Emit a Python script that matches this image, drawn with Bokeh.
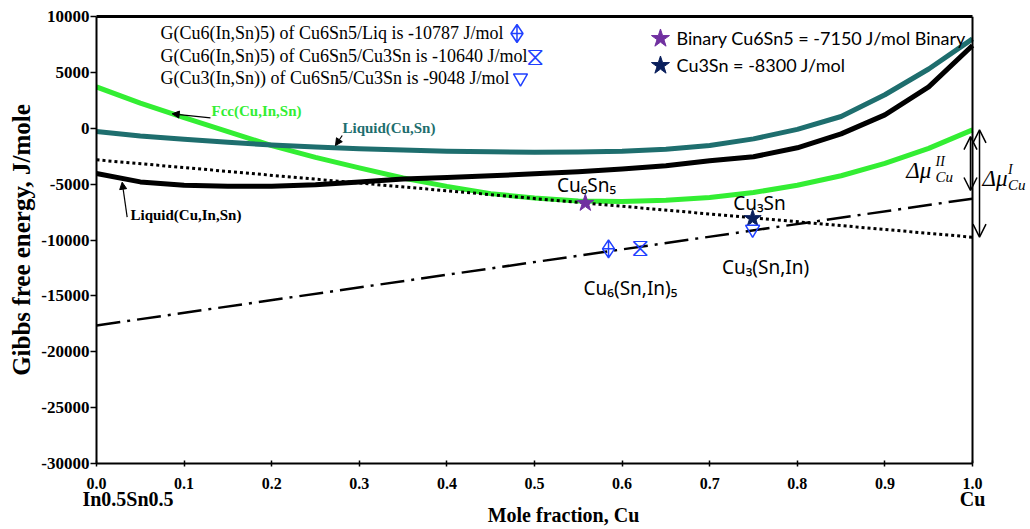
import math
from bokeh.plotting import figure
from bokeh.models import (Label, Arrow, OpenHead, NormalHead, FixedTicker, NumeralTickFormatter,
                          Range1d, LinearAxis, Span, CustomJSTickFormatter)
from bokeh.core.properties import value
from bokeh.embed import file_html
from bokeh.resources import INLINE

# ---------------- data ----------------
x_cu = [0.00, 0.05, 0.10, 0.15, 0.20, 0.25, 0.30, 0.35, 0.40, 0.45, 0.50,
        0.55, 0.60, 0.65, 0.70, 0.75, 0.80, 0.85, 0.90, 0.95, 1.00]
g_fcc = [3700, 2250, 950, -300, -1550, -2600, -3550, -4450, -5200, -5850, -6250,
         -6500, -6550, -6450, -6200, -5750, -5100, -4250, -3150, -1800, -150]
g_liq_cusn = [-300, -700, -980, -1250, -1500, -1680, -1830, -1950, -2050, -2110, -2140,
              -2120, -2050, -1880, -1550, -950, -100, 1050, 3000, 5300, 8000]
g_liq_cuinsn = [-4050, -4800, -5100, -5200, -5200, -5050, -4800, -4550, -4400, -4250, -4080,
                -3900, -3650, -3350, -2900, -2550, -1750, -500, 1200, 3700, 7400]

tangent_x = [0.0, 1.0]
tangent_binary = [-2826, -9750]     # dotted common tangent
tangent_ternary = [-17650, -6300]   # dash-dot common tangent

binary_x = [0.558, 0.749]
binary_g = [-6700, -8070]
binary_names = ["Cu\u2086Sn\u2085", "Cu\u2083Sn"]
ternary_names = ["Cu\u2086(Sn,In)\u2085", "Cu\u2083(Sn,In)"]

ternary_x = [0.5845, 0.620, 0.749]
ternary_g = [-10787, -10640, -9048]

legend_left = [
    "G(Cu6(In,Sn)5) of Cu6Sn5/Liq is -10787 J/mol",
    "G(Cu6(In,Sn)5) of Cu6Sn5/Cu3Sn is -10640 J/mol",
    "G(Cu3(In,Sn)) of Cu6Sn5/Cu3Sn is -9048 J/mol",
]
legend_right = ["Binary Cu6Sn5 = -7150 J/mol Binary", "Cu3Sn = -8300 J/mol"]

x_ticks = [0.0, 0.1, 0.2, 0.3, 0.4, 0.5, 0.6, 0.7, 0.8, 0.9, 1.0]
y_ticks = [-30000, -25000, -20000, -15000, -10000, -5000, 0, 5000, 10000]
end_ticks = [0.036, 1.0]
end_labels = ["In0.5Sn0.5", "Cu"]

GREEN = "#33EE33"
TEAL = "#1E6E6E"
BLUE = "#2040FF"
PURPLE = "#7030A0"
NAVY = "#0A1F5C"
SERIF = "Liberation Serif"

p = figure(width=1030, height=529, output_backend="svg", toolbar_location=None,
           x_range=Range1d(0, 1.0662), y_range=Range1d(-30000, 10000),
           min_border_left=96, min_border_right=0, min_border_top=16, min_border_bottom=66)
p.grid.visible = False
p.outline_line_color = None
p.background_fill_color = "white"
p.border_fill_color = "white"

xax = p.below[0]
yax = p.left[0]
xax.ticker = FixedTicker(ticks=x_ticks)
xax.formatter = NumeralTickFormatter(format="0.0")
xax.bounds = (0, 1)
yax.ticker = FixedTicker(ticks=y_ticks)
yax.formatter = NumeralTickFormatter(format="0")
for ax in (xax, yax):
    ax.axis_line_width = 2
    ax.axis_line_color = "black"
    ax.major_tick_line_color = "black"
    ax.major_tick_line_width = 1.5
    ax.minor_tick_line_color = None
    ax.major_label_text_font = SERIF
    ax.major_label_text_font_style = "bold"
    ax.major_label_text_color = "black"
xax.major_label_text_font_size = "16px"
yax.major_label_text_font_size = "17px"
xax.major_tick_in = 3
xax.major_tick_out = 3
xax.major_label_standoff = 11
yax.major_tick_in = 0
yax.major_tick_out = 6
yax.major_label_standoff = 1
yax.axis_label = "Gibbs free energy, J/mole"
yax.axis_label_text_font = SERIF
yax.axis_label_text_font_style = "bold"
yax.axis_label_text_font_size = "25px"
yax.axis_label_text_color = "black"
yax.axis_label_standoff = 3

# second row under the x axis: end-member names and the axis title
ax2 = LinearAxis(ticker=FixedTicker(ticks=end_ticks),
                 formatter=CustomJSTickFormatter(args=dict(labels=end_labels),
                                                 code="return tick < 0.5 ? labels[0] : labels[1];"),
                 axis_line_color=None, major_tick_line_color=None, minor_tick_line_color=None,
                 major_tick_in=0, major_tick_out=0, major_label_standoff=-4,
                 major_label_text_font=SERIF, major_label_text_font_style="bold",
                 major_label_text_font_size="20px", major_label_text_color="black",
                 axis_label="Mole fraction, Cu", axis_label_standoff=-9,
                 axis_label_text_font=SERIF, axis_label_text_font_style="bold",
                 axis_label_text_font_size="20px", axis_label_text_color="black")
p.add_layout(ax2, "below")

# top border (line only)
top = LinearAxis(bounds=(0, 1), axis_line_width=3, axis_line_color="black",
                 major_tick_line_color=None, minor_tick_line_color=None,
                 major_tick_in=0, major_tick_out=0, major_label_standoff=0,
                 major_label_text_font_size="0px", ticker=FixedTicker(ticks=[]))
p.add_layout(top, "above")
# right border at x = 1
p.add_layout(Span(location=1.0, dimension="height", line_color="black", line_width=2))

# curves
p.line(x_cu, g_fcc, line_color=GREEN, line_width=5, line_join="round")
p.line(x_cu, g_liq_cusn, line_color=TEAL, line_width=5, line_join="round")
p.line(x_cu, g_liq_cuinsn, line_color="black", line_width=5, line_join="round")
p.line(tangent_x, tangent_binary, line_color="black", line_width=3, line_dash="3 3")
p.line(tangent_x, tangent_ternary, line_color="black", line_width=2.5, line_dash="24 7 3 7")

# compound points
p.scatter([binary_x[0]], [binary_g[0]], marker="star", size=18, color=PURPLE)
p.scatter([binary_x[1]], [binary_g[1]], marker="star", size=18, color=NAVY)
p.scatter([ternary_x[0]], [ternary_g[0]], marker="diamond_cross", size=18,
          line_color=BLUE, fill_color=None, line_width=1.5)
p.text([ternary_x[1]], [ternary_g[1]], text=["\u29d6"], text_color=BLUE,
       text_font=value("DejaVu Sans"), text_font_size="26px",
       text_align="center", text_baseline="middle")
p.scatter([ternary_x[2]], [ternary_g[2]], marker="inverted_triangle", size=14,
          line_color=BLUE, fill_color=None, line_width=1.5)

# legend (top-left), drawn as text with symbols on the right
leg_y = [8479, 6466, 4497]
for t, yy in zip(legend_left, leg_y):
    p.add_layout(Label(x=0.0731, y=yy, text=t, text_font=SERIF, text_font_size="18px",
                       text_color="black", text_baseline="middle"))
p.scatter([0.480], [leg_y[0]], marker="diamond_cross", size=18, line_color=BLUE,
          fill_color=None, line_width=1.5)
p.text([0.500], [leg_y[1]], text=["\u29d6"], text_color=BLUE, text_font=value("DejaVu Sans"),
       text_font_size="26px", text_align="center", text_baseline="middle")
p.scatter([0.484], [leg_y[2]], marker="inverted_triangle", size=14, line_color=BLUE,
          fill_color=None, line_width=1.5)

# legend (top-right)
p.scatter([0.6438], [8032], marker="star", size=19, color=PURPLE)
p.scatter([0.6438], [5616], marker="star", size=19, color=NAVY)
for t, yy in zip(legend_right, [8032, 5616]):
    p.add_layout(Label(x=0.6621, y=yy, text=t, text_font="Lato", text_font_size="18px",
                       text_color="black", text_baseline="middle"))

# compound labels
for t, xx, yy in [(binary_names[0], 0.5594, -5123), (binary_names[1], 0.7568, -6645),
                  (ternary_names[0], 0.6096, -14251), (ternary_names[1], 0.7637, -12372)]:
    p.add_layout(Label(x=xx, y=yy, text=t, text_font="Noto Sans", text_font_size="19px",
                       text_color="black", text_align="center", text_baseline="middle"))

# curve labels + pointer arrows
p.add_layout(Label(x=0.1313, y=1499, text="Fcc(Cu,In,Sn)", text_font=SERIF, text_font_style="bold",
                   text_font_size="15px", text_color=GREEN, text_baseline="middle"))
p.add_layout(Label(x=0.2808, y=-22, text="Liquid(Cu,Sn)", text_font=SERIF, text_font_style="bold",
                   text_font_size="15px", text_color=TEAL, text_baseline="middle"))
p.add_layout(Label(x=0.0388, y=-7807, text="Liquid(Cu,In,Sn)", text_font=SERIF, text_font_style="bold",
                   text_font_size="15px", text_color="black", text_baseline="middle"))
for (xs, ys, xe, ye) in [(0.1301, 935, 0.0864, 1293), (0.2805, -649, 0.2728, -1544),
                         (0.035, -7960, 0.0293, -4828)]:
    p.add_layout(Arrow(x_start=xs, y_start=ys, x_end=xe, y_end=ye, line_width=1.2,
                       end=NormalHead(size=7, fill_color="black", line_color="black")))

# chemical potential differences
p.add_layout(Arrow(x_start=0.9977, y_start=-5570, x_end=0.9977, y_end=-750, line_width=1.5,
                   start=OpenHead(size=13, line_width=1.5), end=OpenHead(size=13, line_width=1.5)))
p.add_layout(Arrow(x_start=1.008, y_start=-9750, x_end=1.008, y_end=-140, line_width=1.5,
                   start=OpenHead(size=13, line_width=1.5), end=OpenHead(size=13, line_width=1.5)))


def mu_label(x, y, sup, sub_x):
    p.add_layout(Label(x=x, y=y, text="\u0394\u03bc", text_font=SERIF, text_font_style="italic",
                       text_font_size="23px", text_color="black", text_baseline="middle"))
    p.add_layout(Label(x=sub_x, y=y + 800, text=sup, text_font=SERIF, text_font_style="italic",
                       text_font_size="14px", text_color="black", text_baseline="middle"))
    p.add_layout(Label(x=sub_x, y=y - 550, text="Cu", text_font=SERIF, text_font_style="italic",
                       text_font_size="15px", text_color="black", text_baseline="middle"))


mu_label(0.9245, -3780, "II", 0.9578)
mu_label(1.0115, -4497, "I", 1.0405)

open("out.html", "w").write(file_html(p, INLINE))
